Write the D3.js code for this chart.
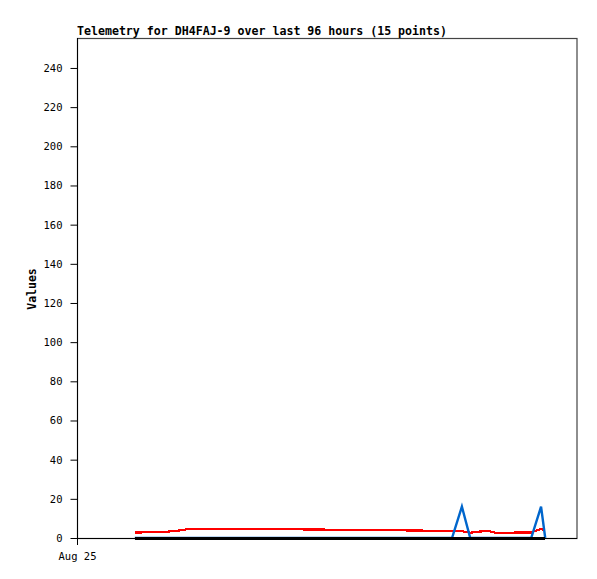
<!DOCTYPE html>
<html><head><meta charset="utf-8">
<script src="https://cdn.jsdelivr.net/npm/d3@7/dist/d3.min.js"></script>
<style>body{margin:0;background:#fff}svg{display:block}</style>
</head><body>
<script>
// hours since Aug 25 00:00
const hours = [11.1, 16.3, 19.0, 21.7, 34.6, 59.5, 72.0, 73.9, 75.5, 77.2, 79.1, 80.4, 87.2, 89.1, 89.9];
const redValues   = [2.8, 3.0, 3.6, 4.7, 4.6, 4.0, 3.6, 3.5, 2.7, 3.3, 3.5, 2.7, 2.8, 4.6, 3.7];
const blueValues  = [0, 0, 0, 0, 0, 0, 0, 16, 0, 0, 0, 0, 0, 16, 0];
const blackValues = [0, 0, 0, 0, 0, 0, 0, 0, 0, 0, 0, 0, 0, 0, 0];
const yTicks = [0, 20, 40, 60, 80, 100, 120, 140, 160, 180, 200, 220, 240];
const xTickLabels = ["Aug 25"];
const xTickHours = [0];
const title = "Telemetry for DH4FAJ-9 over last 96 hours (15 points)";

const W = 597, H = 579;
const m = {left: 77, right: 20, top: 38, bottom: 41};
const svg = d3.select("body").append("svg").attr("width", W).attr("height", H);
const x = d3.scaleLinear().domain([0, 96]).range([m.left, W - m.right]);
const y = d3.scaleLinear().domain([0, 255.3]).range([H - m.bottom, m.top]);
const mono = "'DejaVu Sans Mono', 'Liberation Mono', monospace";

// frame
svg.append("rect").attr("x", m.left + 0.5).attr("y", m.top + 0.5)
  .attr("width", W - m.right - m.left - 0.5).attr("height", H - m.bottom - m.top)
  .attr("fill", "none").attr("stroke", "#444").attr("stroke-width", 1.2);

const line = d3.line().x((d, i) => x(hours[i])).y(d => y(d));
svg.append("path").datum(redValues).attr("d", line).attr("fill", "none")
  .attr("stroke", "#ff0000").attr("stroke-width", 2.2).attr("shape-rendering", "crispEdges");
svg.append("path").datum(blueValues).attr("d", line).attr("fill", "none")
  .attr("stroke", "#0066cc").attr("stroke-width", 2.4);
svg.append("path").datum(blackValues).attr("d", line).attr("fill", "none")
  .attr("stroke", "#000").attr("stroke-width", 3).attr("shape-rendering", "crispEdges");

// y axis
const ya = svg.append("g").attr("transform", `translate(${m.left + 0.5},0)`)
  .call(d3.axisLeft(y).tickValues(yTicks).tickSize(7).tickPadding(8));
ya.select(".domain").attr("stroke", "#000").attr("d", `M0,${m.top}V${H - m.bottom + 7}`);
ya.selectAll(".tick line").attr("stroke", "#000");
ya.selectAll("text").attr("font-family", mono).attr("font-size", 10.5).attr("fill", "#000");

// x axis
const xa = svg.append("g").attr("transform", `translate(0,${H - m.bottom + 0.5})`)
  .call(d3.axisBottom(x).tickValues(xTickHours).tickFormat((d, i) => xTickLabels[i]).tickSize(0).tickPadding(14));
xa.select(".domain").attr("stroke", "#000").attr("d", `M${m.left},0H${W - m.right}`);
xa.selectAll("text").attr("font-family", mono).attr("font-size", 10.5).attr("fill", "#000");

svg.append("text").attr("x", m.left).attr("y", 34.5).text(title)
  .attr("font-family", mono).attr("font-size", 12.8).attr("font-weight", "bold")
  .attr("textLength", 370).attr("lengthAdjust", "spacingAndGlyphs");

svg.append("text").attr("transform", "translate(36,289) rotate(-90)")
  .attr("text-anchor", "middle").text("Values")
  .attr("font-family", mono).attr("font-size", 11.5).attr("font-weight", "bold");
</script>
</body></html>
